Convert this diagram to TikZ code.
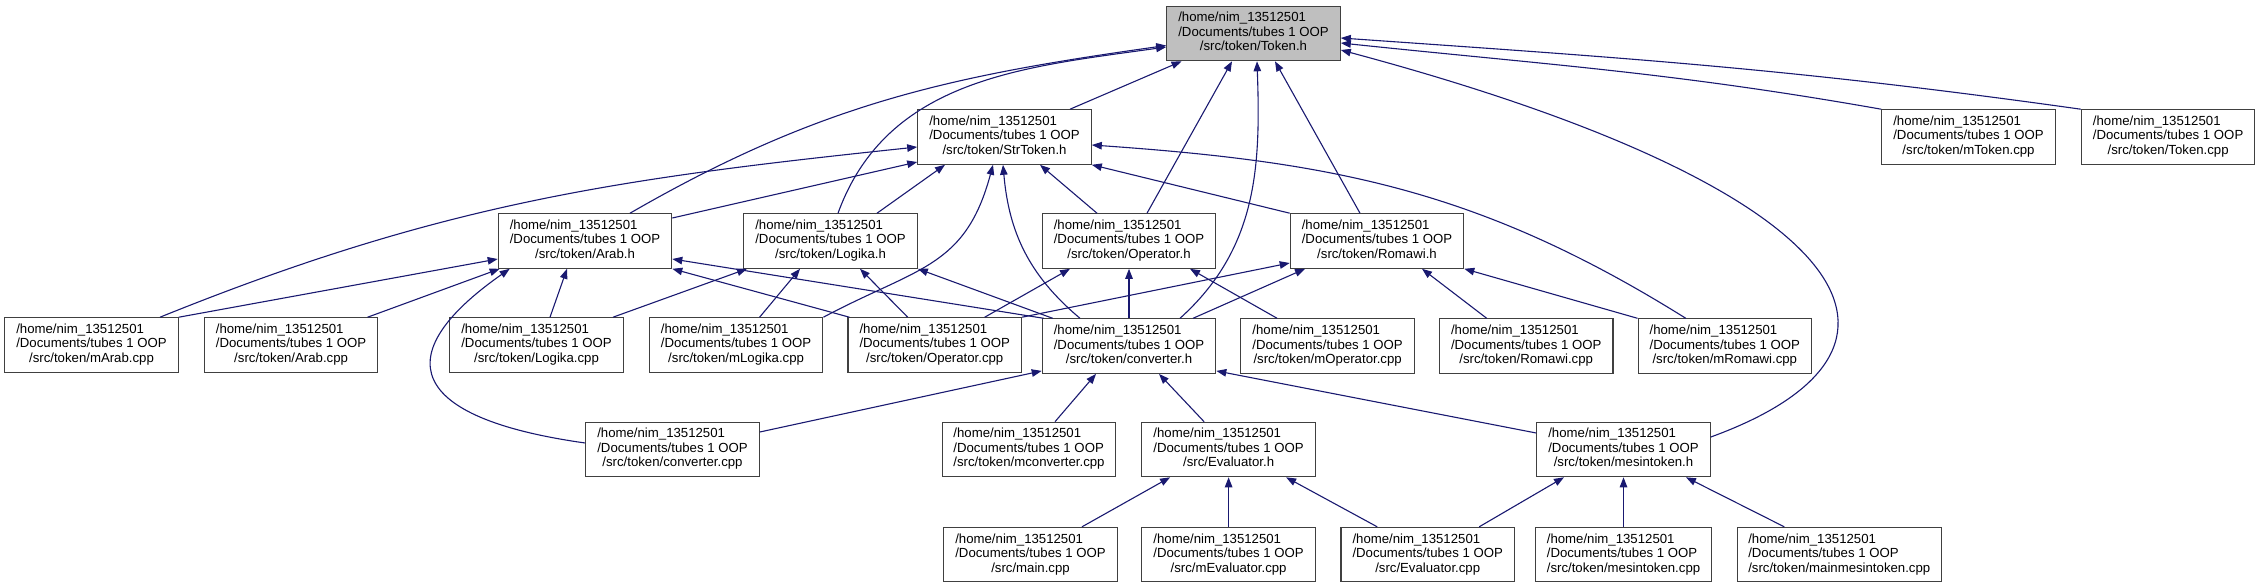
\documentclass[tikz,border=0pt]{standalone}
\usepackage{fontspec}
\setmainfont{Liberation Sans}
\usepackage{tikz}
\usetikzlibrary{arrows.meta,positioning}

\definecolor{edgeblue}{HTML}{191970}
\definecolor{boxline}{HTML}{404040}
\newcommand{\fpath}[1]{\begin{tabular}{@{}l@{}}/home/nim\_13512501\\/Documents/tubes 1 OOP\\\multicolumn{1}{@{}c@{}}{#1}\end{tabular}}

\begin{document}
\begin{tikzpicture}[
    x=1pt, y=-1pt,
    file/.style={draw=boxline, line width=1.1pt, fill=white, minimum width=173.5pt, minimum height=54.5pt, inner xsep=11pt, inner ysep=0pt, font=\fontsize{13.2}{14.5}\selectfont},
    focus/.style={file, fill=black!25},
    line/.style={-{Triangle[length=10pt,width=7.5pt]}, draw=edgeblue, line width=1.1pt}
  ]
    \useasboundingbox (0,0) rectangle (2259,587);

    \node[focus] (tokh) at (1253.5,33.5) {\fpath{/src/token/Token.h}};
    \node[file] (strtok) at (1004.5,137) {\fpath{/src/token/StrToken.h}};
    \node[file] (mtok) at (1968.5,137) {\fpath{/src/token/mToken.cpp}};
    \node[file, right=25pt of mtok] (tokcpp) {\fpath{/src/token/Token.cpp}};
    \node[file] (arabh) at (585,241) {\fpath{/src/token/Arab.h}};
    \node[file] (logh) at (830.5,241) {\fpath{/src/token/Logika.h}};
    \node[file] (oph) at (1129,241) {\fpath{/src/token/Operator.h}};
    \node[file] (romh) at (1377,241) {\fpath{/src/token/Romawi.h}};
    \node[file] (marab) at (91.5,345) {\fpath{/src/token/mArab.cpp}};
    \node[file, right=25pt of marab] (arabcpp) {\fpath{/src/token/Arab.cpp}};
    \node[file] (logcpp) at (536.5,345) {\fpath{/src/token/Logika.cpp}};
    \node[file, right=25pt of logcpp] (mlog) {\fpath{/src/token/mLogika.cpp}};
    \node[file, right=24pt of mlog] (opcpp) {\fpath{/src/token/Operator.cpp}};
    \node[file, below=49.5pt of oph] (convh) {\fpath{/src/token/converter.h}};
    \node[file, right=24pt of convh] (mop) {\fpath{/src/token/mOperator.cpp}};
    \node[file, right=24pt of mop] (romcpp) {\fpath{/src/token/Romawi.cpp}};
    \node[file, right=24pt of romcpp] (mrom) {\fpath{/src/token/mRomawi.cpp}};
    \node[file] (convcpp) at (672.5,449.5) {\fpath{/src/token/converter.cpp}};
    \node[file] (mconv) at (1029,449.5) {\fpath{/src/token/mconverter.cpp}};
    \node[file, right=25pt of mconv] (evalh) {\fpath{/src/Evaluator.h}};
    \node[file] (mesh) at (1623.5,449.5) {\fpath{/src/token/mesintoken.h}};
    \node[file, below=49.5pt of evalh] (meval) {\fpath{/src/mEvaluator.cpp}};
    \node[file, left=23.5pt of meval] (maincpp) {\fpath{/src/main.cpp}};
    \node[file, right=24.5pt of meval] (evalcpp) {\fpath{/src/Evaluator.cpp}};
    \node[file, below=49.5pt of mesh] (mescpp) {\fpath{/src/token/mesintoken.cpp}};
    \node[file, right=25pt of mescpp] (mainmes) {\fpath{/src/token/mainmesintoken.cpp}};

    \draw[line] ([xshift=65.5pt]strtok.north) -- ([xshift=-72pt]tokh.south);
    \draw[line] ([xshift=45pt]arabh.north) to[out=30,in=188] ([yshift=-12pt]tokh.west);
    \draw[line] ([xshift=7.5pt]logh.north) to[out=70,in=188] ([yshift=-13.5pt]tokh.west);
    \draw[line] ([xshift=18pt]oph.north) -- ([xshift=-21.5pt]tokh.south);
    \draw[line] ([xshift=51pt]convh.north) to[out=42,in=-88] ([xshift=3.5pt]tokh.south);
    \draw[line] ([xshift=-17pt]romh.north) -- ([xshift=21.5pt]tokh.south);
    \draw[line] (mtok.north west) to[out=170,in=-6] ([yshift=-9.5pt]tokh.east);
    \draw[line] (tokcpp.north west) to[out=172,in=-4] ([yshift=-4.5pt]tokh.east);
    \draw[line] ([yshift=12.5pt]mesh.east) to[out=20,in=-15,out distance=250pt,in distance=550pt] ([yshift=-16.5pt]tokh.east);

    \draw[line] ([xshift=68.5pt]marab.north) to[out=22,in=186] ([yshift=-10pt]strtok.west);
    \draw[line] ([yshift=23pt]arabh.east) -- ([yshift=-25pt]strtok.west);
    \draw[line] ([xshift=46.5pt]logh.north) -- ([xshift=-59.5pt]strtok.south);
    \draw[line] (mlog.north east) to[out=28,in=-105,looseness=1.2] ([xshift=-11.5pt]strtok.south);
    \draw[line] ([xshift=-49pt]convh.north) to[out=140,in=-85] ([xshift=-1.5pt]strtok.south);
    \draw[line] ([xshift=-32pt]oph.north) -- ([xshift=35.5pt]strtok.south);
    \draw[line] (romh.north west) -- (strtok.south east);
    \draw[line] ([xshift=-39pt]mrom.north) to[out=148,in=-4] ([yshift=-8pt]strtok.east);

    \draw[line] (marab.north east) -- ([yshift=-18pt]arabh.west);
    \draw[line] ([xshift=76.5pt]arabcpp.north) -- ([xshift=2pt]arabh.south west);
    \draw[line] ([yshift=6.5pt]convcpp.west) to[out=172,in=215,out distance=180pt,in distance=150pt] ([xshift=12pt]arabh.south west);
    \draw[line] ([xshift=13.5pt]logcpp.north) -- ([xshift=-18pt]arabh.south);
    \draw[line] ([xshift=2pt]convh.north west) -- ([yshift=-18pt]arabh.east);
    \draw[line] ([xshift=2pt]opcpp.north west) -- (arabh.south east);

    \draw[line] ([xshift=76.5pt]logcpp.north) -- ([xshift=-83.5pt]logh.south);
    \draw[line] ([xshift=23.5pt]mlog.north) -- ([xshift=-30.5pt]logh.south);
    \draw[line] ([xshift=-27pt]opcpp.north) -- ([xshift=29.5pt]logh.south);
    \draw[line] ([xshift=11pt]convh.north west) -- (logh.south east);

    \draw[line] ([xshift=50pt]opcpp.north) -- ([xshift=-59pt]oph.south);
    \draw[line] (convh.north) -- (oph.south);
    \draw[line] ([xshift=-50.5pt]mop.north) -- ([xshift=61pt]oph.south);

    \draw[line] (opcpp.north east) -- ([yshift=-22pt]romh.west);
    \draw[line] ([xshift=64pt]convh.north) -- ([xshift=-72pt]romh.south);
    \draw[line] ([xshift=-39.5pt]romcpp.north) -- ([xshift=45pt]romh.south);
    \draw[line] (mrom.north west) -- (romh.south east);

    \draw[line] ([yshift=17.5pt]convcpp.east) -- ([yshift=3pt]convh.south west);
    \draw[line] ([xshift=26pt]mconv.north) -- ([xshift=-33pt]convh.south);
    \draw[line] ([xshift=-24.5pt]evalh.north) -- ([xshift=30pt]convh.south);
    \draw[line] ([yshift=16.5pt]mesh.west) -- ([yshift=3pt]convh.south east);

    \draw[line] ([xshift=51.5pt]maincpp.north) -- ([xshift=-58.5pt]evalh.south);
    \draw[line] (meval.north) -- (evalh.south);
    \draw[line] ([xshift=-50.5pt]evalcpp.north) -- ([xshift=57.5pt]evalh.south);

    \draw[line] ([xshift=51.5pt]evalcpp.north) -- ([xshift=-59.5pt]mesh.south);
    \draw[line] (mescpp.north) -- (mesh.south);
    \draw[line] ([xshift=-55pt]mainmes.north) -- ([xshift=62.5pt]mesh.south);
  \end{tikzpicture}
\end{document}
